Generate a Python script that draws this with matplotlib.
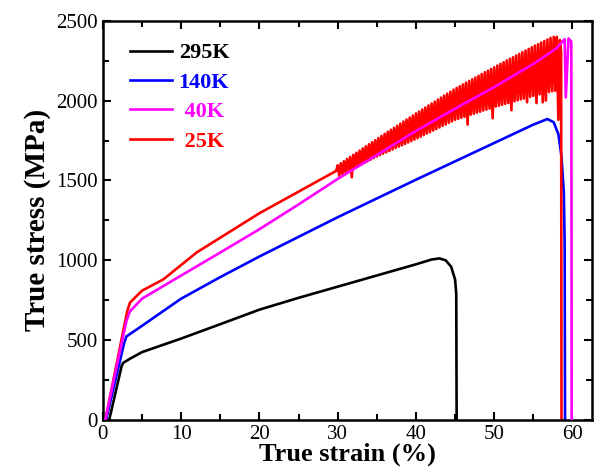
import matplotlib
matplotlib.use('Agg')
import matplotlib.pyplot as plt
import numpy as np

plt.rcParams['font.family'] = ['Liberation Serif', 'DejaVu Serif']

# 295K
strain_295 = [0.8, 2.4, 2.6, 3.5, 5, 10, 15, 20, 25, 30, 35, 40, 42.0, 43.0, 43.8, 44.5, 45.0, 45.15, 45.2]
stress_295 = [0, 340, 358, 385, 425, 510, 600, 691, 765, 835, 905, 975, 1005, 1012, 1000, 960, 880, 790, 0]

# 140K
strain_140 = [0.4, 2.7, 3.0, 5, 10, 15, 20, 30, 40, 50, 55, 56.8, 57.6, 58.2, 58.6, 58.9, 59.0, 59.05]
stress_140 = [0, 480, 523, 590, 760, 895, 1024, 1270, 1505, 1735, 1850, 1885, 1865, 1790, 1650, 1420, 1100, 0]

# 40K
strain_40 = [0.3, 3.0, 3.45, 5, 10, 15, 20, 25, 30, 35, 40, 45, 50, 55, 58.0, 59.0, 59.15, 59.5, 59.85, 59.9]
stress_40 = [0, 620, 680, 760, 905, 1049, 1195, 1350, 1510, 1660, 1810, 1950, 2085, 2230, 2330, 2385, 2020, 2390, 2370, 0]

# 25K, smooth part
strain_25 = [0.3, 3.1, 3.45, 5, 7.7, 12, 20, 25, 29.8]
stress_25 = [0, 680, 735, 810, 880, 1050, 1295, 1430, 1560]

# 25K, serrated flow (peak, drop, peak, drop ...)
serr_strain_25 = [
    30.0, 30.2, 30.4, 30.6, 30.8, 31.0, 31.2, 31.4, 31.6, 31.8,
    32.0, 32.2, 32.4, 32.6, 32.8, 33.0, 33.2, 33.4, 33.6, 33.8,
    34.0, 34.2, 34.4, 34.6, 34.8, 35.0, 35.2, 35.4, 35.6, 35.8,
    36.0, 36.2, 36.4, 36.6, 36.8, 37.0, 37.2, 37.4, 37.6, 37.8,
    38.0, 38.2, 38.4, 38.6, 38.8, 39.0, 39.2, 39.4, 39.6, 39.8,
    40.0, 40.2, 40.4, 40.6, 40.8, 41.0, 41.2, 41.4, 41.6, 41.8,
    42.0, 42.2, 42.4, 42.6, 42.8, 43.0, 43.2, 43.4, 43.6, 43.8,
    44.0, 44.2, 44.4, 44.6, 44.8, 45.0, 45.2, 45.4, 45.6, 45.8,
    46.0, 46.2, 46.4, 46.6, 46.8, 47.0, 47.2, 47.4, 47.6, 47.8,
    48.0, 48.2, 48.4, 48.6, 48.8, 49.0, 49.2, 49.4, 49.6, 49.8,
    50.0, 50.2, 50.4, 50.6, 50.8, 51.0, 51.2, 51.4, 51.6, 51.8,
    52.0, 52.2, 52.4, 52.6, 52.8, 53.0, 53.2, 53.4, 53.6, 53.8,
    54.0, 54.2, 54.4, 54.6, 54.8, 55.0, 55.2, 55.4, 55.6, 55.8,
    56.0, 56.2, 56.4, 56.6, 56.8, 57.0, 57.2, 57.4, 57.6, 57.8,
    58.0, 58.2, 58.4, 58.55, 58.6]
serr_stress_25 = [
    1595, 1530, 1608, 1540, 1621, 1550, 1635, 1560, 1648, 1520,
    1661, 1580, 1674, 1590, 1687, 1600, 1701, 1610, 1714, 1620,
    1727, 1630, 1740, 1640, 1753, 1650, 1766, 1659, 1779, 1668,
    1792, 1676, 1805, 1685, 1818, 1694, 1830, 1703, 1843, 1712,
    1856, 1720, 1869, 1729, 1882, 1738, 1894, 1747, 1907, 1756,
    1920, 1765, 1932, 1774, 1945, 1784, 1957, 1794, 1970, 1803,
    1982, 1813, 1994, 1822, 2007, 1832, 2019, 1842, 2032, 1851,
    2044, 1861, 2056, 1870, 2069, 1880, 2080, 1886, 2091, 1893,
    2102, 1899, 2113, 1850, 2124, 1912, 2134, 1918, 2145, 1925,
    2156, 1931, 2167, 1938, 2178, 1944, 2188, 1950, 2199, 1890,
    2210, 1963, 2220, 1968, 2231, 1974, 2241, 1980, 2252, 1985,
    2262, 1940, 2272, 1996, 2283, 2002, 2293, 2008, 2304, 2013,
    2314, 1990, 2324, 2024, 2335, 2030, 2345, 1985, 2354, 2040,
    2364, 1990, 2374, 2000, 2383, 2054, 2393, 2059, 2400, 2062,
    2400, 1880, 2380, 2300, 0]

fig = plt.figure(figsize=(5.95, 4.74), dpi=100)
ax = fig.add_axes([0.173, 0.114, 0.822, 0.842])

lw = 1.9
ax.plot(strain_295, stress_295, color='black', lw=lw, label='295K')
ax.plot(strain_140, stress_140, color='#0000ff', lw=lw, label='140K')
ax.plot(strain_25 + serr_strain_25, stress_25 + serr_stress_25, color='#ff0000', lw=lw, label=' 25K', zorder=2)
ax.plot(strain_40, stress_40, color='#ff00ff', lw=lw, label=' 40K', zorder=3)

ax.set_xlim(0, 62.5)
ax.set_ylim(0, 2500)
ax.set_xticks([0, 10, 20, 30, 40, 50, 60])
ax.set_xticks([5, 15, 25, 35, 45, 55], minor=True)
ax.set_yticks([0, 500, 1000, 1500, 2000, 2500])
ax.set_yticks([250, 750, 1250, 1750, 2250], minor=True)
ax.tick_params(which='both', direction='in', top=True, right=True, width=1.5, labelsize=15)
ax.tick_params(which='major', length=6)
ax.tick_params(which='minor', length=4)
for s in ax.spines.values():
    s.set_linewidth(1.8)

ax.set_xlabel('True strain (%)', fontsize=19, fontweight='bold', labelpad=-1)
ax.set_ylabel('True stress (MPa)', fontsize=21, fontweight='bold', labelpad=4)

h, l = ax.get_legend_handles_labels()
order = [0, 1, 3, 2]
ax.legend([h[i] for i in order], [l[i] for i in order], loc='upper left',
          bbox_to_anchor=(0.055, 0.945), frameon=False, borderpad=0, borderaxespad=0,
          handlelength=1.9, handletextpad=0.3, labelspacing=0.4,
          prop={'weight': 'bold', 'size': 16},
          labelcolor=['black', '#0000ff', '#ff00ff', '#ff0000'])

fig.savefig('out.png', dpi=100)
